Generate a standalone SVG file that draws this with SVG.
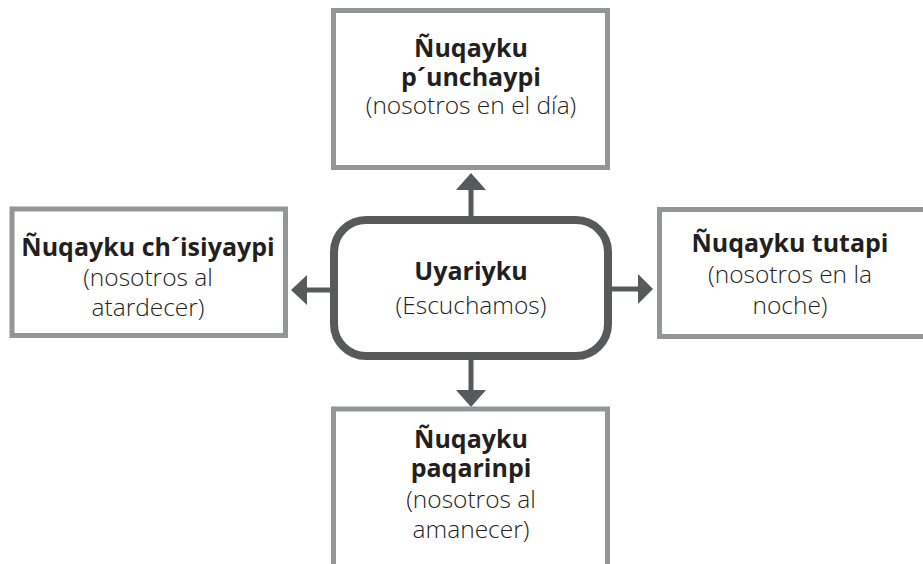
<svg xmlns="http://www.w3.org/2000/svg" width="923" height="564" viewBox="0 0 923 564">
<style>
.box{fill:#fff;stroke:#939598;stroke-width:5}
.hub{fill:#fff;stroke:#58595b;stroke-width:8}
.t{font-family:"Open Sans","Noto Sans",sans-serif;font-size:24.5px;font-weight:300;fill:#231f20;text-anchor:middle}
.b{font-weight:bold;font-size:25px}
.c{stroke:#58595b;stroke-width:5;fill:none}
.h{fill:#58595b}
</style>
<rect width="923" height="564" fill="#fff"/>
<g id="connectors">
<line class="c" x1="471" y1="216" x2="471" y2="186"/>
<polygon class="h" points="471,173 456,190 486,190"/>
<line class="c" x1="471" y1="360" x2="471" y2="392"/>
<polygon class="h" points="471,407 456,390 486,390"/>
<line class="c" x1="330" y1="290" x2="305" y2="290"/>
<polygon class="h" points="291,290 307,275 307,305"/>
<line class="c" x1="612" y1="289" x2="640" y2="289"/>
<polygon class="h" points="653,289 638,274 638,304"/>
</g>
<g id="top">
<rect class="box" x="333.5" y="10.5" width="274" height="157"/>
<text class="t b" x="471" y="57">Ñuqayku</text>
<text class="t b" x="471" y="86">p´unchaypi</text>
<text class="t" x="471" y="114">(nosotros en el día)</text>
</g>
<g id="left">
<rect class="box" x="12" y="209" width="273.5" height="126.5"/>
<text class="t b" x="148" y="256">Ñuqayku ch´isiyaypi</text>
<text class="t" x="148" y="286">(nosotros al</text>
<text class="t" x="148" y="316">atardecer)</text>
</g>
<g id="right">
<rect class="box" x="659.5" y="209.5" width="290" height="127"/>
<text class="t b" x="790" y="252">Ñuqayku tutapi</text>
<text class="t" x="790" y="283">(nosotros en la</text>
<text class="t" x="790" y="314">noche)</text>
</g>
<g id="bottom">
<rect class="box" x="333.5" y="409" width="274" height="180"/>
<text class="t b" x="471" y="448">Ñuqayku</text>
<text class="t b" x="471" y="477">paqarinpi</text>
<text class="t" x="471" y="508">(nosotros al</text>
<text class="t" x="471" y="538">amanecer)</text>
</g>
<g id="center">
<rect class="hub" x="334" y="220" width="274" height="136" rx="32"/>
<text class="t b" x="471" y="280">Uyariyku</text>
<text class="t" x="471" y="314">(Escuchamos)</text>
</g>
</svg>
